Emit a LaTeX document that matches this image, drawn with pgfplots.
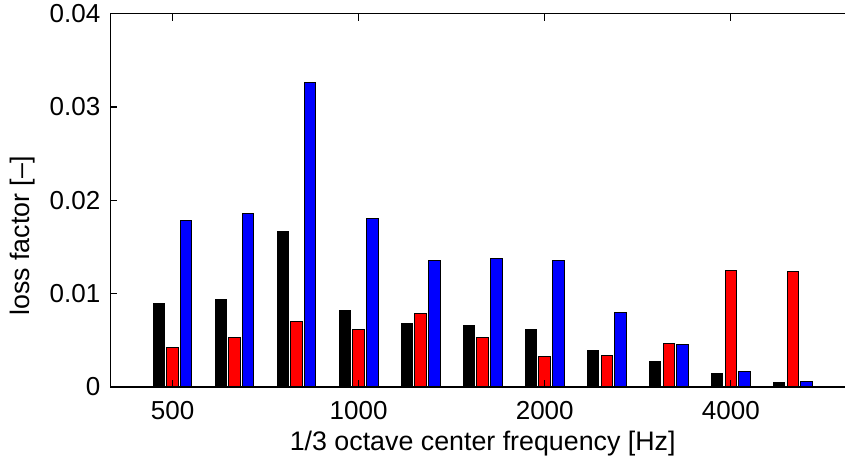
\documentclass[border=0pt]{standalone}
\usepackage{pgfplots}
\pgfplotsset{compat=1.18}
\usepackage{fontspec}
\setmainfont{Liberation Sans}
\begin{document}
\begin{tikzpicture}
\begin{axis}[
 name=ax,
 scale only axis, width=744.4bp, height=373.5bp,
 xmin=-1, xmax=11, ymin=0, ymax=0.04,
 axis x line=box, axis y line=left,
 axis line style={-, line width=1.5bp, black},
 axis on top,
 xtick={0,3,6,9}, xticklabels={500,1000,2000,4000},
 ytick={0,0.01,0.02,0.03,0.04}, yticklabels={0,0.01,0.02,0.03,0.04},
 scaled y ticks=false,
 tick align=inside, major tick length=7bp,
 every tick/.style={black, line width=1.3bp},
 ticklabel style={font=\fontsize{26bp}{30bp}\selectfont, inner sep=0pt},
 xticklabel style={anchor=base, yshift=-32bp},
 yticklabel style={anchor=east, xshift=-10bp},
 xlabel={1/3 octave center frequency [Hz]},
 ylabel={loss factor [--]},
 label style={font=\fontsize{26.8bp}{31bp}\selectfont, inner sep=0pt},
 xlabel style={at={(axis description cs:0.5,-0.1687)}, anchor=base},
 ylabel style={at={(axis description cs:-0.1182,0.404)}, anchor=center},
]
\addplot[ybar, bar width=0.185, bar shift=-0.22, fill=black, draw=black, line width=1bp] coordinates {
(0,0.00889) (1,0.00939) (2,0.0166) (3,0.00817) (4,0.00675) (5,0.0066) (6,0.00621) (7,0.00396) (8,0.00268) (9,0.00146) (10,0.0005)};
\addplot[ybar, bar width=0.185, bar shift=0, fill=red, draw=black, line width=1bp] coordinates {
(0,0.00418) (1,0.00528) (2,0.00699) (3,0.00618) (4,0.00782) (5,0.00532) (6,0.00332) (7,0.00339) (8,0.00468) (9,0.0125) (10,0.01235)};
\addplot[ybar, bar width=0.185, bar shift=0.22, fill=blue, draw=black, line width=1bp] coordinates {
(0,0.0178) (1,0.01853) (2,0.0326) (3,0.01807) (4,0.0136) (5,0.01374) (6,0.01353) (7,0.00796) (8,0.00457) (9,0.00171) (10,0.00054)};
\end{axis}
\pgfresetboundingbox
\path[use as bounding box] ([xshift=-110.5bp,yshift=-72bp]ax.south west) rectangle ([xshift=734.5bp,yshift=13.5bp]ax.north west);
\end{tikzpicture}
\end{document}
